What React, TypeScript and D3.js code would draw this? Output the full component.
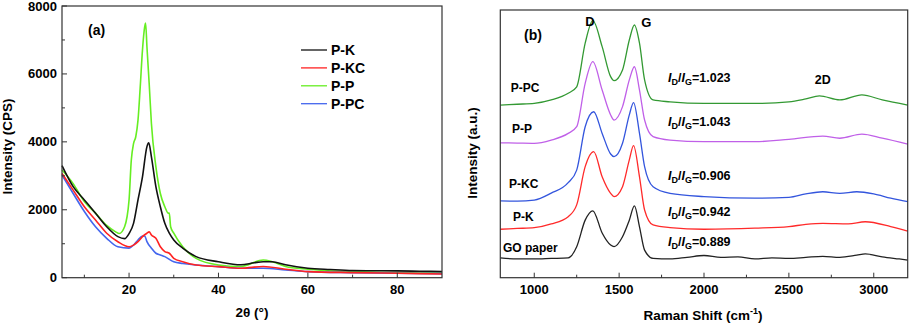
import React from 'react';
import * as d3 from 'd3';

// ---- XRD (panel a): [2theta, intensity CPS]
const xrdPK: [number, number][] = [
  [5, 3300], [7.5, 2680], [10, 2290], [12.5, 1900], [15, 1500], [17.5, 1210], [19, 1150],
  [20, 1300], [21, 1600], [22, 2290], [23, 2970], [24, 3860], [24.4, 3970], [25, 3560],
  [26, 2680], [27, 2090], [28, 1600], [29, 1310], [30, 1110], [32, 870], [35, 620],
  [40, 470], [45, 380], [48, 440], [50, 470], [52, 470], [55, 380], [60, 280], [65, 240],
  [70, 210], [75, 205], [80, 200], [85, 190], [90, 180],
];
const xrdPKC: [number, number][] = [
  [5, 3070], [7.5, 2580], [10, 2090], [12.5, 1700], [15, 1310], [17.5, 1060], [20, 910],
  [21, 960], [22, 1060], [23, 1210], [24, 1310], [24.5, 1350], [25, 1260], [26, 1160],
  [27, 910], [28, 770], [29, 720], [30, 570], [32, 470], [35, 375], [40, 325], [45, 280],
  [50, 330], [55, 250], [60, 180], [70, 150], [80, 130], [90, 110],
];
const xrdPP: [number, number][] = [
  [5, 3170], [7.5, 2770], [10, 2240], [12.5, 1900], [15, 1540], [17, 1350], [17.8, 1300],
  [19, 1500], [20, 2290], [20.5, 3460], [21, 3950], [21.5, 4150], [22, 4640], [22.5, 5620],
  [23, 6700], [23.5, 7390], [23.7, 7500], [24, 6800], [24.5, 5720], [25, 4540], [26, 3270],
  [27, 2480], [28, 2090], [28.8, 1900], [29, 1900], [29.3, 1500], [30, 1310], [32, 910],
  [35, 570], [40, 375], [45, 330], [50, 520], [52, 470], [55, 330], [60, 250], [70, 180],
  [80, 150], [90, 130],
];
const xrdPPC: [number, number][] = [
  [5, 3020], [7.5, 2480], [10, 1950], [12.5, 1500], [15, 1160], [17.5, 910], [20, 870],
  [21, 960], [22, 1110], [23, 1230], [23.5, 1230], [24, 1060], [25, 870], [26, 720],
  [27, 670], [28, 620], [30, 470], [32, 420], [35, 375], [40, 325], [45, 280], [50, 280],
  [55, 230], [60, 180], [70, 150], [80, 130], [90, 120],
];

const xrdNames = ['P-K', 'P-KC', 'P-P', 'P-PC'];
const xrdColors = ['#111111', '#ff2222', '#66ee22', '#4466ee'];
const xrdSeries = [xrdPK, xrdPKC, xrdPP, xrdPPC];
const xrdXTicks = [20, 40, 60, 80];
const xrdYTicks = [0, 2000, 4000, 6000, 8000];

// ---- Raman (panel b): [shift cm-1, intensity a.u. incl. offset]
const ramanGO: [number, number][] = [
  [800, 7.4], [900, 7.0], [1000, 7.0], [1100, 7.2], [1200, 7.4], [1250, 11.6], [1300, 21.5],
  [1345, 25], [1400, 16.7], [1450, 12.2], [1470, 11.6], [1520, 15.3], [1560, 21.5],
  [1590, 26.8], [1620, 19], [1650, 10.3], [1700, 7.2], [1800, 7.0], [1900, 7.6], [2000, 8.3],
  [2100, 7.6], [2200, 7.8], [2300, 7.0], [2400, 7.4], [2500, 7.2], [2600, 7.6], [2700, 8.0],
  [2800, 7.6], [2900, 8.4], [2950, 8.9], [3050, 7.8], [3150, 7.0], [3200, 6.6],
];
const ramanPK: [number, number][] = [
  [800, 18.1], [900, 18.4], [1000, 18.7], [1100, 20.1], [1200, 22.8], [1250, 27.2],
  [1300, 41.5], [1350, 47.1], [1400, 37.7], [1450, 31.5], [1470, 30.3], [1520, 34],
  [1560, 44], [1585, 49.3], [1620, 37.7], [1650, 25.3], [1700, 19.7], [1800, 18.7],
  [2000, 18.1], [2300, 18.5], [2500, 19.1], [2600, 19.9], [2700, 20.3], [2850, 20.1],
  [2950, 20.9], [3100, 19.1], [3200, 17.4],
];
const ramanPKC: [number, number][] = [
  [800, 28.7], [900, 28.6], [1000, 29], [1100, 31.6], [1200, 35.5], [1250, 40.2],
  [1300, 56.4], [1350, 62], [1400, 53.9], [1450, 46.2], [1470, 45.2], [1520, 50.2],
  [1560, 60.8], [1585, 65.4], [1620, 53.9], [1650, 41.5], [1700, 34], [1800, 31.5],
  [2000, 30.3], [2300, 29.7], [2500, 30], [2600, 31.3], [2700, 32.1], [2800, 31.5],
  [2900, 32.1], [3000, 31.3], [3100, 29.7], [3200, 28.4],
];
const ramanPP: [number, number][] = [
  [800, 50.4], [900, 50.3], [1000, 50.2], [1100, 51.4], [1200, 53.9], [1250, 56.4],
  [1300, 72.6], [1345, 80.7], [1400, 70.1], [1450, 60.8], [1470, 58.9], [1520, 63.9],
  [1560, 73.9], [1590, 78.8], [1620, 70.1], [1650, 58.9], [1700, 52.7], [1800, 51.4],
  [2000, 50.8], [2300, 50.8], [2500, 51.7], [2700, 52.9], [2800, 52.1], [2930, 53.6],
  [3050, 52.1], [3200, 49.9],
];
const ramanPPC: [number, number][] = [
  [800, 64.5], [900, 64.8], [1000, 65.1], [1100, 66.4], [1200, 68.9], [1250, 71.3],
  [1300, 87.6], [1345, 96], [1400, 86.3], [1450, 75.1], [1470, 73.6], [1520, 77.6],
  [1560, 88.8], [1590, 94.4], [1620, 87.6], [1650, 73.9], [1700, 66.4], [1800, 65.7],
  [2000, 65.1], [2300, 65.1], [2500, 65.7], [2600, 66.8], [2680, 67.9], [2800, 66.4],
  [2930, 68.3], [3050, 66.4], [3200, 64.5],
];

const ramanNames = ['GO paper', 'P-K', 'P-KC', 'P-P', 'P-PC'];
const ramanColors = ['#222222', '#ff2a2a', '#3355dd', '#c060e8', '#339933'];
const ramanSeries = [ramanGO, ramanPK, ramanPKC, ramanPP, ramanPPC];
const ramanRatios = ['0.889', '0.942', '0.906', '1.043', '1.023'];
const ramanXTicks = [1000, 1500, 2000, 2500, 3000];

const FONT = '"Liberation Sans", Arial, sans-serif';

export default function App() {
  // panel a scales
  const xa = d3.scaleLinear().domain([5, 90]).range([62, 442]);
  const ya = d3.scaleLinear().domain([0, 8000]).range([277.7, 6]);
  const lineA = d3.line<[number, number]>()
    .x((d) => xa(d[0]))
    .y((d) => ya(d[1]))
    .curve(d3.curveMonotoneX);

  // panel b scales
  const xb = d3.scaleLinear().domain([800, 3200]).range([500.3, 907.7]);
  const yb = d3.scaleLinear().domain([0, 100]).range([277.7, 10]);
  const lineB = d3.line<[number, number]>()
    .x((d) => xb(d[0]))
    .y((d) => yb(d[1]))
    .curve(d3.curveMonotoneX);

  const xaMinor = d3.range(10, 90, 20);
  const yaMinor = d3.range(1000, 8000, 2000);
  const xbMinor = d3.range(1250, 3200, 500);

  // label positions for panel b (y in px)
  const nameY = [247, 216, 183, 128, 87];
  const nameX = [503, 513, 509, 512, 510.7];
  const ratioY = [243.3, 213.3, 177.3, 123.3, 79];

  const drawOrderA = [2, 3, 1, 0];

  return (
    <div style={{ position: 'absolute', left: 0, top: 0 }}>
      <svg width={910} height={326} style={{ display: 'block', background: '#fff' }} fontFamily={FONT} fontWeight="bold">
        {/* ---------- Panel (a) ---------- */}
        <g>
          {drawOrderA.map((i) => (
            <path key={i} d={lineA(xrdSeries[i]) || ''} fill="none" stroke={xrdColors[i]} strokeWidth={1.6} strokeLinejoin="round" />
          ))}
          <rect x={62} y={6} width={380} height={271.7} fill="none" stroke="#333" strokeWidth={1.2} />
          {xrdXTicks.map((t) => (
            <g key={t}>
              <line x1={xa(t)} x2={xa(t)} y1={277.7} y2={272.7} stroke="#333" />
              <text x={xa(t)} y={294} textAnchor="middle" fontSize={13}>{t}</text>
            </g>
          ))}
          {xaMinor.map((t) => (
            <line key={t} x1={xa(t)} x2={xa(t)} y1={277.7} y2={274.7} stroke="#333" />
          ))}
          {xrdYTicks.map((t) => (
            <g key={t}>
              <line x1={62} x2={67} y1={ya(t)} y2={ya(t)} stroke="#333" />
              <text x={57} y={ya(t) + 4.5} textAnchor="end" fontSize={13}>{t}</text>
            </g>
          ))}
          {yaMinor.map((t) => (
            <line key={t} x1={62} x2={65} y1={ya(t)} y2={ya(t)} stroke="#333" />
          ))}
          <text x={88} y={35} fontSize={14}>(a)</text>
          {xrdNames.map((n, i) => (
            <g key={n}>
              <line x1={301} x2={327} y1={50 + i * 17.9} y2={50 + i * 17.9} stroke={xrdColors[i]} strokeWidth={1.3} />
              <text x={331} y={55 + i * 17.9} fontSize={14}>{n}</text>
            </g>
          ))}
          <text transform="translate(12,146.5) rotate(-90)" textAnchor="middle" fontSize={13.5}>Intensity (CPS)</text>
          <text x={252} y={317} textAnchor="middle" fontSize={13.5}>2θ (°)</text>
        </g>

        {/* ---------- Panel (b) ---------- */}
        <g>
          {ramanSeries.map((s, i) => (
            <path key={i} d={lineB(s) || ''} fill="none" stroke={ramanColors[i]} strokeWidth={1.3} strokeLinejoin="round" />
          ))}
          <rect x={500.3} y={10} width={407.4} height={267.7} fill="none" stroke="#333" strokeWidth={1.2} />
          {ramanXTicks.map((t) => (
            <g key={t}>
              <line x1={xb(t)} x2={xb(t)} y1={277.7} y2={272.7} stroke="#333" />
              <text x={xb(t)} y={294} textAnchor="middle" fontSize={13}>{t}</text>
            </g>
          ))}
          {xbMinor.map((t) => (
            <line key={t} x1={xb(t)} x2={xb(t)} y1={277.7} y2={274.7} stroke="#333" />
          ))}
          <text x={524} y={40} fontSize={14}>(b)</text>
          <text x={xb(1340) - 2} y={26} textAnchor="middle" fontSize={13}>D</text>
          <text x={xb(1590) + 12} y={27} textAnchor="middle" fontSize={13}>G</text>
          <text x={xb(2700)} y={84} textAnchor="middle" fontSize={12.5}>2D</text>
          {ramanNames.map((n, i) => (
            <text key={n} x={nameX[i]} y={nameY[i] + 4.5} fontSize={12}>{n}</text>
          ))}
          {ramanRatios.map((r, i) => (
            <text key={r} x={668} y={ratioY[i] + 3} fontSize={12.5}>
              <tspan fontStyle="italic">I</tspan>
              <tspan fontSize={9} dy={3}>D</tspan>
              <tspan dy={-3}>/</tspan>
              <tspan fontStyle="italic">I</tspan>
              <tspan fontSize={9} dy={3}>G</tspan>
              <tspan dy={-3}>={r}</tspan>
            </text>
          ))}
          <text transform="translate(477,153) rotate(-90)" textAnchor="middle" fontSize={13.5}>Intensity (a.u.)</text>
          <text x={703} y={320} textAnchor="middle" fontSize={13.5}>
            Raman Shift (cm<tspan fontSize={9} dy={-6}>-1</tspan><tspan dy={6}>)</tspan>
          </text>
        </g>
      </svg>
    </div>
  );
}
